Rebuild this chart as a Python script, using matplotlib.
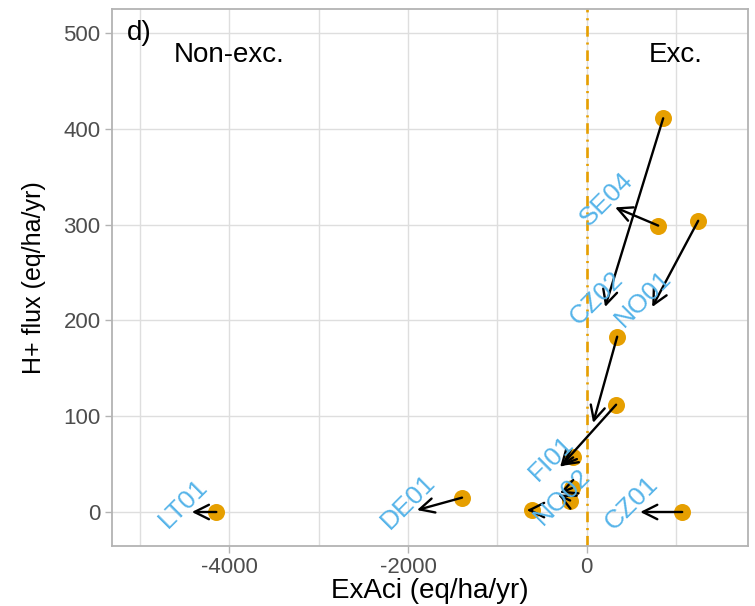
import matplotlib
matplotlib.use("Agg")
import matplotlib.pyplot as plt

# arrows: from first run (start) to second run (end) for each site
start_x = [-4146, -1395, -611, 1070, -185, -162, 330, -151, 342, 857, 801, 1249]
start_y = [0, 15, 2, 0, 12, 25, 112, 57, 183, 411, 299, 304]
end_x = [-4420, -1899, -667, 600, -319, -300, -297, -290, 73, 207, 319, 734]
end_y = [0, 2, 2, 0, 18, 20, 47, 48, 93, 214, 318, 214]

# site names and where they sit
site_names = ["LT01", "DE01", "NO02", "CZ01", "FI01", "CZ02", "SE04", "NO01"]
site_x = [-4420, -1899, -175, 600, -297, 207, 319, 734]
site_y = [0, 2, 7, 0, 47, 214, 318, 214]

x_ticks = [-4000, -2000, 0]
y_ticks = [0, 100, 200, 300, 400, 500]

ORANGE = "#E69F00"
BLUE = "#56B4E9"
GRID = "#DEDEDE"

plt.rcParams["font.family"] = ["Liberation Sans", "DejaVu Sans"]

fig = plt.figure(figsize=(7.55, 6.06), dpi=100)
ax = fig.add_axes([0.148, 0.099, 0.843, 0.886])

ax.set_xlim(-5317, 1809)
ax.set_ylim(-35.5, 525)

# grid: every 1000 on x, every 100 on y
for gx in range(-5000, 2000, 1000):
    ax.axvline(gx, color=GRID, lw=1.0, zorder=0)
for gy in y_ticks:
    ax.axhline(gy, color=GRID, lw=1.0, zorder=0)

ax.axvline(0, color=ORANGE, lw=1.9, ls=(0, (4, 2.2, 0.8, 2.2)), zorder=1)

ax.scatter(start_x, start_y, s=150, color=ORANGE, zorder=3, linewidths=0)

for x0, y0, x1, y1 in zip(start_x, start_y, end_x, end_y):
    ax.annotate("", xy=(x1, y1), xytext=(x0, y0),
                arrowprops=dict(arrowstyle="->", color="black", lw=1.7,
                                mutation_scale=26, shrinkA=0, shrinkB=0),
                zorder=4)

for name, lx, ly in zip(site_names, site_x, site_y):
    ax.text(lx, ly, name, color=BLUE, fontsize=19, rotation=45,
            rotation_mode="anchor", ha="center", va="bottom", zorder=5)

ax.text(-5150, 500, "d)", fontsize=20, ha="left", va="center")
ax.text(-4000, 477, "Non-exc.", fontsize=20, ha="center", va="center")
ax.text(1000, 477, "Exc.", fontsize=20, ha="center", va="center")

ax.set_xticks(x_ticks)
ax.set_xticklabels([str(v) for v in x_ticks])
ax.set_yticks(y_ticks)
ax.tick_params(colors="#B3B3B3", labelcolor="#4D4D4D", labelsize=16,
               length=5, width=1.0, pad=3)

ax.set_xlabel("ExAci (eq/ha/yr)", fontsize=20, va="center")
ax.xaxis.set_label_coords(0.5, -0.083)
ax.set_ylabel("H+ flux (eq/ha/yr)", fontsize=18, va="center")
ax.yaxis.set_label_coords(-0.122, 0.5)

for sp in ax.spines.values():
    sp.set_color("#B3B3B3")
    sp.set_linewidth(1.3)

fig.savefig("out.png", dpi=100)
